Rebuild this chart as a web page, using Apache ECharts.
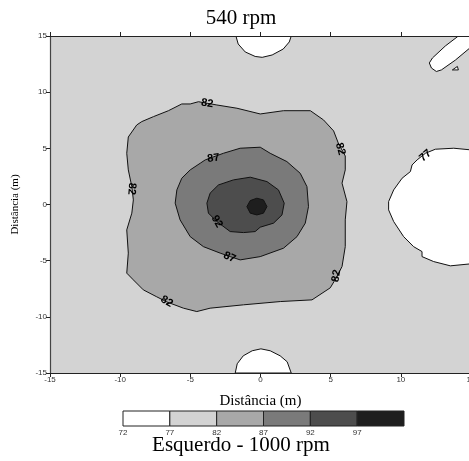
<!DOCTYPE html>
<html><head><meta charset="utf-8">
<script src="https://cdn.jsdelivr.net/npm/echarts@6/dist/echarts.min.js"></script>
<style>html,body{margin:0;padding:0;background:#fff;overflow:hidden}#c{width:473px;height:461px}</style>
</head><body><div id="c"></div>
<script>
// ---- contour polygons (data coordinates, metres) ----
const contour82 = [[-9.42,6.01],[-8.82,7.08],[-8.46,7.38],[-7.63,7.82],[-6.56,8.35],[-5.61,8.95],[-5.01,8.95],[-4.42,9.15],[-3.11,8.86],[-1.68,8.57],[-0.02,8.06],[1.64,8.35],[3.55,8.35],[4.49,7.53],[5.21,6.55],[5.54,5.48],[6.04,4.32],[6.04,3.08],[5.81,1.90],[6.16,0.26],[6.04,-1.37],[6.04,-3.75],[5.81,-5.52],[5.40,-6.53],[4.97,-7.42],[3.67,-8.49],[1.41,-8.64],[-1.21,-8.93],[-3.59,-9.23],[-4.54,-9.53],[-5.49,-9.23],[-6.68,-8.67],[-7.39,-8.22],[-8.35,-7.60],[-9.06,-6.71],[-9.53,-6.11],[-9.42,-4.33],[-9.53,-2.26],[-9.17,-0.77],[-9.06,0.41],[-9.17,1.59],[-9.42,3.08],[-9.53,4.56]];
const contour87 = [[-3.94,3.97],[-2.64,4.56],[-1.45,5.01],[-0.02,5.10],[0.69,4.56],[1.88,3.82],[2.83,2.78],[3.31,1.59],[3.42,-0.19],[3.19,-1.66],[2.60,-2.86],[1.64,-3.89],[-0.02,-4.64],[-1.45,-4.93],[-2.16,-4.64],[-2.87,-4.33],[-4.07,-3.75],[-5.01,-2.86],[-5.73,-1.37],[-6.08,0.12],[-5.96,1.30],[-5.61,2.34],[-5.01,3.08],[-4.30,3.67]];
const contour92 = [[-3.59,1.01],[-3.00,1.74],[-1.93,2.19],[-0.73,2.43],[0.46,2.04],[1.28,1.30],[1.69,0.12],[1.53,-0.93],[0.93,-1.66],[-0.02,-2.02],[-0.38,-2.41],[-1.21,-2.50],[-2.16,-2.41],[-3.11,-1.52],[-3.71,-0.77],[-3.82,0.12]];
const contour97 = [[-0.97,-0.19],[-0.73,0.35],[-0.26,0.56],[0.21,0.41],[0.46,-0.19],[0.21,-0.77],[-0.26,-0.93],[-0.73,-0.77]];
const low77Top = [[-1.75,15],[-1.59,14.29],[-1.09,13.58],[-0.38,13.18],[0.12,13.10],[0.83,13.31],[1.62,13.84],[2.05,14.47],[2.19,15]];
const low77Bottom = [[-1.80,-15],[-1.66,-14.18],[-1.23,-13.47],[-0.59,-13.02],[0.03,-12.85],[0.69,-13.02],[1.40,-13.47],[1.90,-14.0],[2.19,-15]];
const low77Right = [[15,4.86],[13.77,5.01],[12.46,4.92],[11.75,4.56],[11.16,3.97],[10.80,3.52],[10.68,2.93],[10.09,2.34],[9.49,1.30],[9.13,0.26],[9.13,-0.48],[9.49,-1.52],[10.20,-2.86],[10.91,-3.75],[11.51,-4.19],[11.51,-4.64],[12.34,-5.08],[13.53,-5.46],[15,-5.28]];
const low77Strip = [[14.10,15],[13.17,14.11],[12.25,13.04],[12.03,12.60],[12.18,12.15],[12.53,11.84],[12.89,11.98],[13.89,12.86],[15,14.02],[15,15]];
const low77Tri = [[13.67,11.98],[14.03,12.29],[14.10,11.98]];

// ---- contour labels [x, y, text] and their angles (deg) ----
const contourLabels = [[-3.80,9.0,'82'],[5.69,4.95,'82'],[-9.17,1.4,'82'],[5.40,-6.35,'82'],[-6.68,-8.64,'82'],[-3.35,4.12,'87'],[-2.2,-4.7,'87'],[-3.11,-1.52,'92'],[11.75,4.35,'77']];
const labelAngles = [-8,-75,-95,80,-30,8,-25,-60,40];

// ---- colour scale ----
const cbLevels = [72,77,82,87,92,97];
const cbLabels = ['72','77','82','87','92','97',''];
const bandColors = ['#ffffff','#d3d3d3','#a8a8a8','#7a7a7a','#4d4d4d','#1e1e1e'];

function polySeries(pts, fill) {
  return {
    type: 'custom', xAxisIndex: 0, yAxisIndex: 0, z: 2, clip: true,
    data: pts, encode: {x: 0, y: 1}, silent: true,
    renderItem: function (params, api) {
      if (params.dataIndex !== 0) return;
      const p = pts.map(function (d) { return api.coord(d); });
      return {type: 'polygon', shape: {points: p},
        style: {fill: fill, stroke: '#111', lineWidth: 1}};
    }
  };
}

const chart = echarts.init(document.getElementById('c'), null, {renderer: 'canvas'});
const axisLbl = {fontFamily: 'Liberation Sans', fontSize: 8, color: '#333'};
const option = {
  animation: false,
  title: [
    {text: '540 rpm', left: 241, top: 8, textAlign: 'center', padding: 0,
     textStyle: {fontFamily: 'Liberation Serif', fontSize: 21, fontWeight: 'normal', color: '#000'}},
    {text: 'Esquerdo - 1000 rpm', left: 241, top: 435, textAlign: 'center', padding: 0,
     textStyle: {fontFamily: 'Liberation Serif', fontSize: 21, fontWeight: 'normal', color: '#000'}}
  ],
  grid: [
    {left: 50, top: 36, width: 421, height: 337, show: true, backgroundColor: bandColors[1], borderWidth: 0,
     containLabel: false, outerBoundsMode: 'none'},
    {left: 123, top: 411, width: 281, height: 15, containLabel: false, outerBoundsMode: 'none'}
  ],
  xAxis: [
    {type: 'value', gridIndex: 0, min: -15, max: 15, interval: 5, position: 'bottom', z: 10,
     name: 'Distância (m)', nameLocation: 'middle', nameGap: 21,
     nameTextStyle: {fontFamily: 'Liberation Serif', fontSize: 15, color: '#000'},
     axisLine: {onZero: false, lineStyle: {color: '#222', width: 1.2}},
     axisTick: {length: 4, lineStyle: {color: '#222'}},
     axisLabel: Object.assign({margin: 3}, axisLbl), splitLine: {show: false}},
    {type: 'value', gridIndex: 0, min: -15, max: 15, interval: 5, position: 'top', z: 10,
     axisLine: {onZero: false, lineStyle: {color: '#222', width: 1.2}},
     axisTick: {length: 4, lineStyle: {color: '#222'}},
     axisLabel: {show: false}, splitLine: {show: false}},
    {type: 'value', gridIndex: 1, min: 0, max: 6, interval: 1,
     axisLine: {show: false}, axisTick: {show: false}, splitLine: {show: false},
     axisLabel: Object.assign({margin: 3, formatter: function (v) { return cbLabels[v]; }}, axisLbl)}
  ],
  yAxis: [
    {type: 'value', gridIndex: 0, min: -15, max: 15, interval: 5, z: 10, position: 'left',
     name: 'Distância (m)', nameLocation: 'middle', nameGap: 29,
     nameTextStyle: {fontFamily: 'Liberation Serif', fontSize: 11, color: '#000'},
     axisLine: {onZero: false, lineStyle: {color: '#444', width: 1.2}},
     axisTick: {length: 4, lineStyle: {color: '#222'}},
     axisLabel: Object.assign({margin: 3}, axisLbl), splitLine: {show: false}},
    {type: 'value', gridIndex: 1, min: 0, max: 1, show: false}
  ],
  series: [
    polySeries(contour82, bandColors[2]),
    polySeries(contour87, bandColors[3]),
    polySeries(contour92, bandColors[4]),
    polySeries(contour97, bandColors[5]),
    polySeries(low77Top, bandColors[0]),
    polySeries(low77Bottom, bandColors[0]),
    polySeries(low77Right, bandColors[0]),
    polySeries(low77Strip, bandColors[0]),
    polySeries(low77Tri, bandColors[0]),
    {
      type: 'custom', xAxisIndex: 0, yAxisIndex: 0, z: 5, silent: true,
      data: contourLabels.map(function (l) { return [l[0], l[1]]; }),
      encode: {x: 0, y: 1},
      renderItem: function (params, api) {
        const i = params.dataIndex;
        const p = api.coord([api.value(0), api.value(1)]);
        return {type: 'text', x: p[0], y: p[1], rotation: labelAngles[i] * Math.PI / 180,
          style: {text: contourLabels[i][2], fontFamily: 'Liberation Sans', fontSize: 11,
            fontWeight: 'bold', fill: '#000', align: 'center', verticalAlign: 'middle'}};
      }
    },
    {
      type: 'custom', xAxisIndex: 2, yAxisIndex: 1, silent: true,
      data: cbLevels.map(function (v, i) { return [i, i + 1, v]; }),
      encode: {x: [0, 1]},
      renderItem: function (params, api) {
        const a = api.coord([api.value(0), 1]);
        const b = api.coord([api.value(1), 0]);
        return {type: 'rect', shape: {x: a[0], y: a[1], width: b[0] - a[0], height: b[1] - a[1]},
          style: {fill: bandColors[params.dataIndex], stroke: '#222', lineWidth: 1}};
      }
    }
  ]
};
chart.setOption(option);
</script>
</body></html>
